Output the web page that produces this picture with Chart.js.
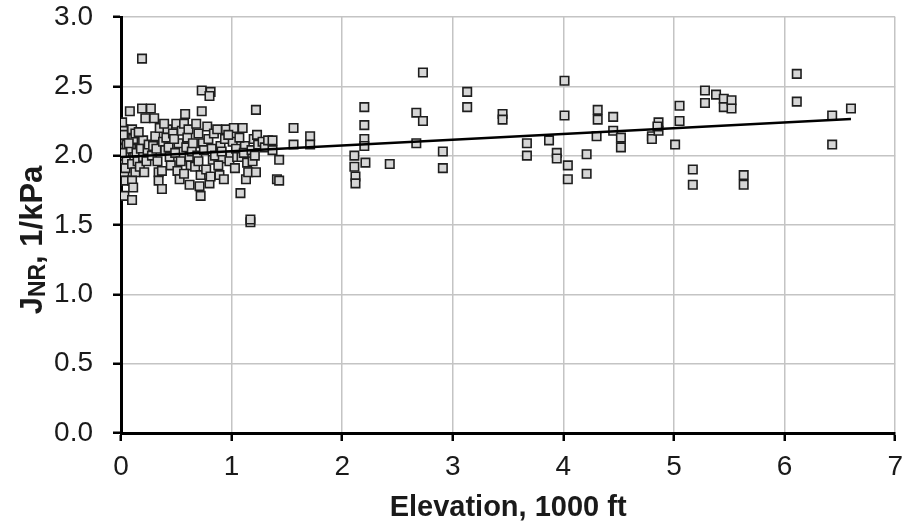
<!DOCTYPE html>
<html>
<head>
<meta charset="utf-8">
<script src="https://cdn.jsdelivr.net/npm/chart.js@4.4.1/dist/chart.umd.min.js"></script>
<style>
  html, body { margin: 0; padding: 0; background: #fff; }
  #wrap { width: 912px; height: 527px; position: relative; }
</style>
</head>
<body>
<div id="wrap"><canvas id="jnr-chart"></canvas></div>
<script>
// elevation (1000 ft) and Jnr (1/kPa)
const elevation = [
  0.02, 0.02, 0.03, 0.01, 0.02, 0.03, 0.04, 0.01, 0.03, 0.05, 0.03, 0.05, 0.01, 0.04, 0.02,
  0.08, 0.10, 0.11, 0.09, 0.12, 0.10, 0.13, 0.10, 0.10, 0.11, 0.14, 0.07, 0.15, 0.13,
  0.19, 0.19, 0.22, 0.20, 0.18, 0.20, 0.17, 0.21, 0.24, 0.23, 0.16, 0.25,
  0.27, 0.30, 0.29, 0.28, 0.31, 0.33, 0.34, 0.34, 0.32, 0.35,
  0.37, 0.37, 0.38, 0.40, 0.42, 0.44, 0.41, 0.45, 0.39, 0.43,
  0.47, 0.49, 0.50, 0.51, 0.52, 0.54, 0.48, 0.55, 0.53,
  0.58, 0.57, 0.60, 0.59, 0.62, 0.62, 0.63, 0.61, 0.64, 0.57, 0.65,
  0.73, 0.73, 0.68, 0.70, 0.71, 0.72, 0.69, 0.74, 0.67, 0.72, 0.75, 0.70,
  0.81, 0.80, 0.78, 0.80, 0.79, 0.82, 0.83, 0.77, 0.84, 0.81, 0.85,
  0.87, 0.95, 0.90, 0.92, 0.88, 0.94, 0.91, 0.89, 0.93,
  1.02, 0.99, 1.01, 1.04, 0.98, 1.03, 0.97, 1.05,
  1.10, 1.08, 1.13, 1.09, 1.12, 1.07, 1.14, 1.11, 1.15,
  1.22, 1.17, 1.17, 1.22, 1.20, 1.18, 1.24, 1.19, 1.23, 1.21,
  1.28, 1.30, 1.33, 1.41, 1.37, 1.37, 1.43, 1.43,
  1.56, 1.56, 1.71, 1.71,
  2.20, 2.20, 2.20, 2.20, 2.21, 2.11, 2.11, 2.12, 2.12, 2.43,
  2.73, 2.67, 2.73, 2.67, 2.91, 2.91, 3.13, 3.13, 3.45, 3.45,
  3.67, 3.67, 3.87, 3.94, 3.94, 4.01, 4.01, 4.04, 4.04, 4.21, 4.21,
  4.30, 4.31, 4.31, 4.45, 4.45, 4.52, 4.52, 4.80, 4.80, 4.86, 4.86, 4.85,
  5.01, 5.05, 5.05, 5.17, 5.17, 5.28, 5.28, 5.38, 5.45, 5.45, 5.52, 5.52,
  5.63, 5.63, 6.11, 6.11, 6.43, 6.43, 6.60
];
const jnr = [
  2.19, 2.12, 2.05, 1.99, 1.94, 1.88, 1.82, 2.24, 2.00, 1.96, 1.71, 2.08, 2.02, 1.91, 2.15,
  2.32, 2.19, 2.12, 2.05, 1.99, 1.94, 1.88, 1.82, 1.68, 1.77, 2.02, 2.09, 1.96, 2.16,
  2.70, 2.34, 2.27, 2.11, 2.05, 1.99, 1.92, 1.88, 2.04, 1.96, 2.17, 2.08,
  2.34, 2.27, 2.07, 2.00, 2.14, 1.96, 1.88, 1.82, 2.05, 2.20,
  1.76, 1.89, 2.10, 2.04, 2.19, 1.99, 2.13, 1.93, 2.23, 2.06,
  2.16, 2.02, 2.23, 1.89, 2.09, 1.96, 2.12, 2.18, 1.83,
  2.30, 2.23, 2.13, 2.06, 1.99, 1.79, 1.93, 2.19, 2.03, 1.87, 2.09,
  2.47, 2.32, 2.23, 2.16, 1.78, 1.71, 2.00, 2.09, 1.92, 1.86, 2.04, 1.96,
  2.46, 2.43, 2.21, 1.80, 2.12, 2.05, 1.97, 1.90, 2.16, 1.85, 2.00,
  2.19, 2.19, 2.07, 1.98, 1.93, 2.12, 2.03, 1.86, 1.83,
  2.20, 2.00, 2.10, 2.05, 1.96, 1.91, 2.15, 1.99,
  2.20, 1.73, 1.83, 1.99, 2.07, 2.13, 1.95, 2.02, 1.88,
  2.33, 1.52, 1.54, 1.88, 2.12, 2.04, 2.08, 1.96, 2.15, 2.00,
  2.10, 2.06, 2.11, 1.83, 2.11, 2.04, 1.97, 1.82,
  2.20, 2.08, 2.14, 2.08,
  2.35, 2.22, 2.12, 2.07, 1.95, 2.00, 1.92, 1.85, 1.80, 1.94,
  2.60, 2.31, 2.25, 2.09, 2.03, 1.91, 2.46, 2.35, 2.30, 2.26,
  2.09, 2.00, 2.11, 2.02, 1.98, 2.54, 2.29, 1.93, 1.83, 2.01, 1.87,
  2.14, 2.33, 2.26, 2.28, 2.18, 2.13, 2.06, 2.14, 2.12, 2.24, 2.18, 2.21,
  2.08, 2.36, 2.25, 1.90, 1.79, 2.47, 2.38, 2.44, 2.41, 2.35, 2.40, 2.34,
  1.86, 1.79, 2.59, 2.39, 2.29, 2.08, 2.34
];

// linear trend line end points
const trendX = [0, 6.6];
const trendY = [1.99, 2.265];

const xTicks = [0, 1, 2, 3, 4, 5, 6, 7];
const yTicks = [0, 0.5, 1.0, 1.5, 2.0, 2.5, 3.0];

const points = elevation.map((x, i) => ({ x, y: jnr[i] }));
const trend = trendX.map((x, i) => ({ x, y: trendY[i] }));

const FONT = '"Liberation Sans", Arial, sans-serif';

// y title with subscript NR
const yTitlePlugin = {
  id: 'yTitle',
  afterDraw(chart) {
    const ctx = chart.ctx;
    const big = 'bold 31px ' + FONT;
    const small = 'bold 23px ' + FONT;
    ctx.save();
    ctx.translate(31, 240);
    ctx.rotate(-Math.PI / 2);
    ctx.fillStyle = '#1a1a1a';
    ctx.textBaseline = 'alphabetic';
    ctx.font = big;
    const wJ = ctx.measureText('J').width;
    const wRest = ctx.measureText(', 1/kPa').width;
    ctx.font = small;
    const wNR = ctx.measureText('NR').width;
    let x = -(wJ + wNR + wRest) / 2;
    const base = 11;
    ctx.font = big;
    ctx.fillText('J', x, base);
    x += wJ;
    ctx.font = small;
    ctx.fillText('NR', x, base + 3);
    x += wNR;
    ctx.font = big;
    ctx.fillText(', 1/kPa', x, base);
    ctx.restore();
  }
};

new Chart(document.getElementById('jnr-chart'), {
  type: 'scatter',
  data: {
    datasets: [
      {
        type: 'line',
        label: 'trend',
        data: trend,
        borderColor: '#000',
        borderWidth: 2.5,
        pointRadius: 0,
        fill: false,
        order: 0
      },
      {
        label: 'Jnr',
        data: points,
        pointStyle: 'rect',
        pointRadius: 6,
        backgroundColor: '#d6d6d6',
        borderColor: '#1e1e1e',
        borderWidth: 1.6,
        order: 1
      }
    ]
  },
  options: {
    responsive: true,
    maintainAspectRatio: false,
    animation: false,
    layout: { padding: { top: 17, right: 15, left: 0, bottom: 0 } },
    plugins: {
      legend: { display: false },
      tooltip: { enabled: false }
    },
    scales: {
      x: {
        type: 'linear',
        min: 0,
        max: 7,
        afterBuildTicks: s => { s.ticks = xTicks.map(v => ({ value: v })); },
        afterFit: s => { s.height = 94; },
        grid: { color: '#c4c4c4', lineWidth: 1.5, tickColor: '#000', tickLength: 8, tickWidth: 2.5 },
        border: { color: '#000', width: 3 },
        ticks: { color: '#1a1a1a', padding: 9, font: { family: FONT, size: 28 } },
        title: {
          display: true,
          text: 'Elevation, 1000 ft',
          color: '#1a1a1a',
          padding: { top: 0, bottom: 2 },
          font: { family: FONT, size: 29, weight: 'bold' }
        }
      },
      y: {
        min: 0,
        max: 3,
        afterBuildTicks: s => { s.ticks = yTicks.map(v => ({ value: v })); },
        afterFit: s => { s.width = 121; s.paddingTop = 0; s.paddingBottom = 0; },
        grid: { color: '#c4c4c4', lineWidth: 1.5, tickColor: '#000', tickLength: 8, tickWidth: 2.5 },
        border: { color: '#000', width: 3 },
        ticks: {
          color: '#1a1a1a',
          padding: 20,
          callback: v => v.toFixed(1),
          font: { family: FONT, size: 28 }
        }
      }
    }
  },
  plugins: [yTitlePlugin]
});
</script>
</body>
</html>
